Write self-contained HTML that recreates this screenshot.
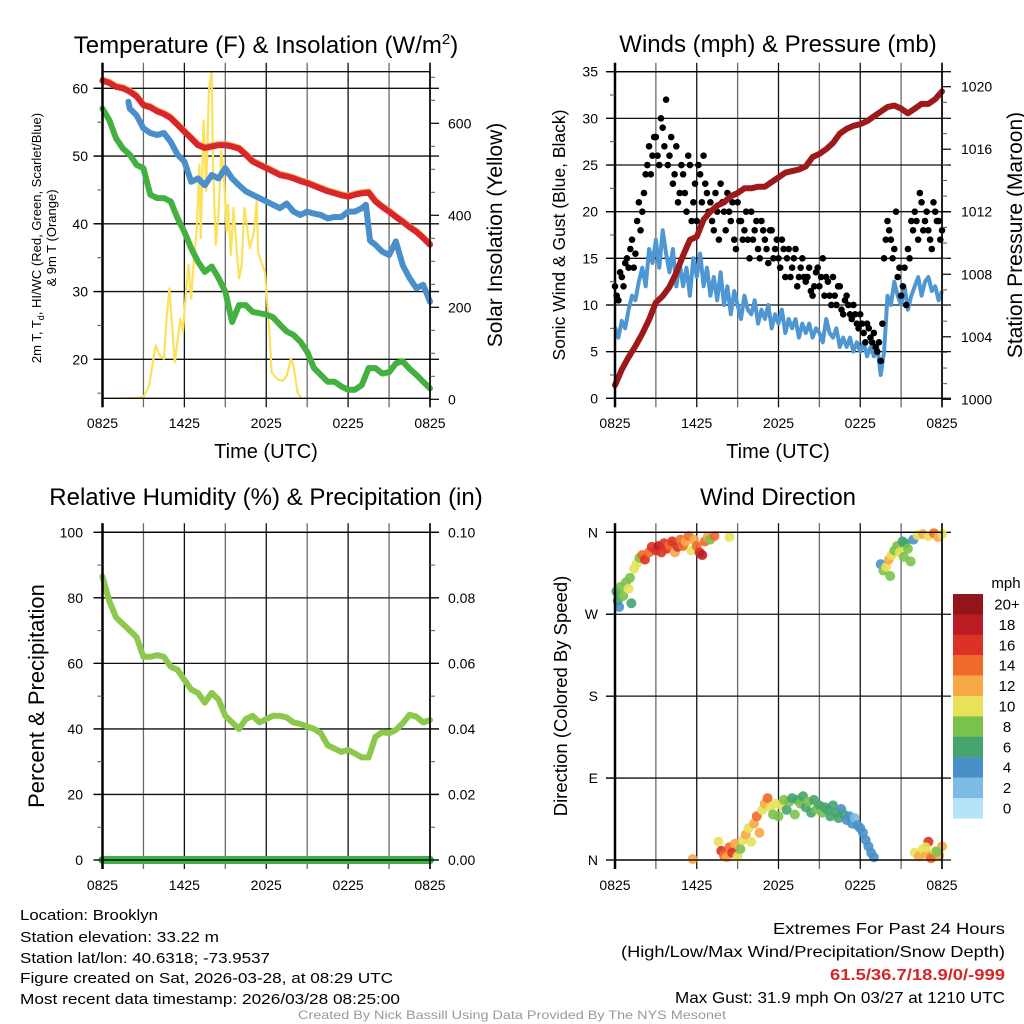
<!DOCTYPE html>
<html><head><meta charset="utf-8"><title>NYS Mesonet Brooklyn</title>
<style>
html,body{margin:0;padding:0;background:#fff;}
svg{display:block;font-family:"Liberation Sans",Arial,sans-serif;}
</style></head>
<body>
<svg id="fig" xmlns="http://www.w3.org/2000/svg" width="1024" height="1024" viewBox="0 0 1024 1024">
<rect x="0" y="0" width="1024" height="1024" fill="#fff"/>
<g id="layer-grid"></g>
<g id="layer-data"></g>
<g id="layer-axes"></g>

<text x="266" y="53" font-size="24" text-anchor="middle">Temperature (F) &amp; Insolation (W/m<tspan dy="-9" font-size="15">2</tspan><tspan dy="9">)</tspan></text>
<text x="778" y="52" font-size="24" text-anchor="middle">Winds (mph) &amp; Pressure (mb)</text>
<text x="266" y="505" font-size="24" text-anchor="middle">Relative Humidity (%) &amp; Precipitation (in)</text>
<text x="778" y="505" font-size="24" text-anchor="middle">Wind Direction</text>

<text transform="translate(41,238) rotate(-90)" font-size="13" text-anchor="middle">2m T, T<tspan dy="3" font-size="9">d</tspan><tspan dy="-3">, HI/WC (Red, Green, Scarlet/Blue)</tspan></text>
<text transform="translate(56,238) rotate(-90)" font-size="13" text-anchor="middle">&amp; 9m T (Orange)</text>
<text transform="translate(502,235) rotate(-90)" font-size="21" text-anchor="middle">Solar Insolation (Yellow)</text>
<text x="266" y="458" font-size="20" text-anchor="middle">Time (UTC)</text>

<text transform="translate(565,235) rotate(-90)" font-size="17.5" text-anchor="middle">Sonic Wind &amp; Gust (Blue, Black)</text>
<text transform="translate(1022,235) rotate(-90)" font-size="21" text-anchor="middle">Station Pressure (Maroon)</text>
<text x="778" y="458" font-size="20" text-anchor="middle">Time (UTC)</text>

<text transform="translate(44,696) rotate(-90)" font-size="22" text-anchor="middle">Percent &amp; Precipitation</text>
<text transform="translate(567,696) rotate(-90)" font-size="18.5" text-anchor="middle">Direction (Colored By Speed)</text>

<text x="1006" y="588" font-size="15" text-anchor="middle">mph</text>

<g font-size="15">
<text x="20" y="920" textLength="138" lengthAdjust="spacingAndGlyphs">Location: Brooklyn</text>
<text x="20" y="942" textLength="199" lengthAdjust="spacingAndGlyphs">Station elevation: 33.22 m</text>
<text x="20" y="963" textLength="250" lengthAdjust="spacingAndGlyphs">Station lat/lon: 40.6318; -73.9537</text>
<text x="20" y="983" textLength="373" lengthAdjust="spacingAndGlyphs">Figure created on Sat, 2026-03-28, at 08:29 UTC</text>
<text x="20" y="1004" textLength="380" lengthAdjust="spacingAndGlyphs">Most recent data timestamp: 2026/03/28 08:25:00</text>
</g>
<g font-size="16" text-anchor="end">
<text x="1005" y="934" textLength="232" lengthAdjust="spacingAndGlyphs">Extremes For Past 24 Hours</text>
<text x="1005" y="957" textLength="384" lengthAdjust="spacingAndGlyphs">(High/Low/Max Wind/Precipitation/Snow Depth)</text>
<text x="1005" y="980" font-weight="bold" fill="#d62728" textLength="175" lengthAdjust="spacingAndGlyphs">61.5/36.7/18.9/0/-999</text>
<text x="1005" y="1003" textLength="330" lengthAdjust="spacingAndGlyphs">Max Gust: 31.9 mph On 03/27 at 1210 UTC</text>
</g>
<text x="512" y="1019" font-size="12" fill="#999" text-anchor="middle" textLength="428" lengthAdjust="spacingAndGlyphs">Created By Nick Bassill Using Data Provided By The NYS Mesonet</text>
</svg>

<script>
// ---------- data ----------
const timeTicks = ["0825","1425","2025","0225","0825"];
const halfHours = [0,0.5,1,1.5,2,2.5,3,3.5,4,4.5,5,5.5,6,6.5,7,7.5,8,8.5,9,9.5,10,10.5,11,11.5,12,12.5,13,13.5,14,14.5,15,15.5,16,16.5,17,17.5,18,18.5,19,19.5,20,20.5,21,21.5,22,22.5,23,23.5,24];
const tempRed = [61.1,60.8,60.2,60,59.5,58.8,57.5,57.2,56.6,56.2,55.6,54.6,53.6,52.6,51.6,51.2,51.4,51.6,51.6,51.4,51.1,50.2,49.2,48.7,48.2,47.7,47.2,47,46.7,46.3,46,45.6,45.2,44.8,44.5,44.2,44,44.3,44.5,44.6,43.3,42.5,41.8,41,40.3,39.5,38.8,37.9,36.9];
const heatIndexHours = [1.9,2,2.5,3,3.5,4,4.5,5,5.5,6,6.5,7,7.5,8,8.5,9,9.5,10,10.5,11,11.5,12,12.5,13,13.5,14,14.5,15,15.5,16,16.5,17,17.5,18,18.5,19,19.3,19.6,20,20.5,21,21.5,22,22.5,23,23.5,24];
const heatIndexBlue = [58,57,56,54.1,53.4,53.1,53.4,52.1,50.2,49.2,46.2,46.7,45.7,47.2,46.7,48.2,46.7,45.7,44.8,44.3,43.8,43.3,42.8,42.3,43,41.8,41.3,41.8,41.5,41.3,40.8,41,41,41.8,41.8,42.3,42.8,37.5,36.9,35.9,35.4,37.4,33.9,32,30.5,31,28.5];
const dewGreen = [57,55.3,52.6,51.1,50.2,48.7,48.2,44.3,43.8,43.8,43.3,40.8,38.8,36.4,34.4,32.9,33.7,32,30,25.5,28,28,27,26.8,26.6,26.2,25.1,24.1,23.6,22.6,21.1,18.7,17.7,16.7,16.7,16,15.5,15.5,16.2,18.7,18.7,17.9,18.1,19.4,19.7,18.6,17.7,16.7,15.7];
const solarHours = [0,3,3.4,3.9,4.2,4.5,4.7,4.9,5.1,5.3,5.7,5.9,6.1,6.3,6.5,6.7,6.9,7.1,7.2,7.4,7.6,7.8,8.0,8.1,8.3,8.5,8.7,8.9,9.1,9.2,9.4,9.6,9.9,10.0,10.2,10.4,10.7,10.8,11.1,11.3,11.4,11.7,11.9,12.2,12.4,12.8,13.2,13.5,13.8,14.0,14.3,14.6,24];
const solarValues = [0,4,29,117,95,88,175,241,160,80,175,146,226,292,219,307,365,511,350,606,453,672,715,511,336,402,540,489,365,423,314,416,299,263,292,416,350,329,365,431,321,292,277,160,58,44,40,51,88,73,15,0,0];
const quarterHours = Array.from({length:97},(_,i)=>i/4);
const offsetQuarterHours = Array.from({length:96},(_,i)=>i/4+0.125);
const windSpeed = [7.6,6.5,8.3,7.5, 9.5,11,10.5,12.5, 14,12,16,14.5, 17,14,18,15.5, 13.5,16,12,14.5, 12,14,11,15, 13,15.5,12,14, 11,13,10.5,13.5, 10,12,9,11.5, 10,8.5,11,9.5, 9,10.5,8,9.5, 8.5,10,7.5,9, 8,9.5,7,8.5, 7.5,8.5,6.5,8, 7,8,6.5,7.5, 7,6,8.5,7, 6.5,7.5,5.5,6.5, 5.5,6.5,5,6, 5,6,4.5,5.5, 4.5,5.5,2.5,5, 11,10,12.5,11, 10,12,9.5,11, 12,13,11,12.5, 13,11.5,12,10.5, 11.5];
const windGust = [12,10.5,13,14.5, 14,17,15.5,21, 20,24,27,26, 28,25,29,32, 26,23,27,22, 24,20,25,21, 19,24,26,22, 21,18,20,23, 20,22,19,17, 21,19,18,17, 20,18,16,19, 17,14.5,18,16, 15,17,13,16, 14,16,13,15, 12.5,14,11,13.5, 12,15,13,11, 13,10,12,9, 11,9,10,8, 9,7,8,6.5, 7,5,4,15, 19,17,16,13, 11,14,16,19, 20,17,21,19, 18,16,20,19, 18];
const windGustOffset = [11,13.5,12,15, 16,14,19,18, 22,25,24,28, 26,30,27,25, 28,24,21,25, 22,26,19,23, 25,21,23,20, 19,22,17,21, 18,20,21,16, 19,17,20,15, 17,19,15,18, 16,18,15,17, 14,16,15,13, 15,12,14,13, 13,11.5,12,14, 13,11,12.5,10, 11,12,9.5,10.5, 10,8.5,9,7.5, 8,6,7.5,6, 5.5,6,8,17, 18,15,20,14, 12,10,15,18, 19,22,18,20, 17,21,19,17];
const pressure = [1000.9,1001.9,1002.7,1003.4,1004.2,1005.1,1006.2,1006.6,1007.2,1008.1,1009.2,1010.2,1010.4,1011.5,1012,1012.4,1012.6,1013,1013.2,1013.5,1013.5,1013.6,1013.6,1013.9,1014.2,1014.5,1014.6,1014.7,1014.9,1015.5,1015.7,1016,1016.4,1017,1017.3,1017.5,1017.6,1017.8,1018.1,1018.4,1018.7,1018.8,1018.6,1018.3,1018.6,1018.9,1018.9,1019.2,1019.7];
const relHumidity = [86.5,79,74,72,70,68,62,62,62.5,62,59,58,55,52,51,48,51,49,44,42,40,43,44,42,43,44,44,43.5,42,41.5,40.7,40,38.7,35,34,33,33.6,32.5,31.3,31.3,37.6,39,38.7,39.7,41.7,44.3,43.7,42,42.7];
const precip = [0,0];
const precipHours = [0,24];
const dirHours = [0.1,0.2,0.3,0.4,0.6,0.8,1.0,1.1,1.2,1.4,1.6,1.8,2.0,2.2,2.5,2.7,3.0,3.2,3.4,3.6,3.8,4.0,4.2,4.4,4.6,4.8,5.0,5.2,5.4,5.6,5.8,6.0,6.2,6.4,6.6,6.8,7.0,7.3,8.4,
 19.5,19.7,19.9,20.1,20.2,20.3,20.5,20.7,20.9,21.1,21.2,21.3,21.5,21.7,21.9,22.2,22.6,23.0,23.4,23.7,24.0,
 5.7,7.6,7.8,8.0,8.2,8.4,8.6,8.8,9.0,9.2,9.4,9.6,9.8,10.0,10.2,10.4,10.6,10.8,11.0,11.2,11.4,11.6,11.8,12.0,12.2,12.4,12.6,12.8,13.0,13.2,13.4,13.6,13.8,14.0,14.2,14.4,14.6,14.8,15.0,15.2,15.4,15.6,15.8,16.0,16.2,16.4,16.6,16.8,17.0,17.2,17.4,17.6,17.8,18.0,18.2,18.4,18.6,18.8,19.0,
 22.0,22.3,22.6,22.9,23.2,23.5,23.8,24.0,23.0,22.8,23.6];
const dirDegrees = [295,285,278,300,290,305,298,310,282,320,326,332,335,330,338,344,340,345,338,348,342,346,350,338,344,352,345,350,356,340,352,345,338,335,350,355,352,356,355,
 325,318,322,330,312,335,340,345,338,350,333,348,342,328,352,357,358,356,359,355,358,
 1,20,10,5,3,14,8,18,4,12,22,28,35,20,40,48,30,55,62,68,58,50,62,48,60,66,55,64,68,50,66,62,70,58,64,52,66,56,60,52,58,55,48,60,52,46,56,50,44,48,40,46,38,35,30,22,15,8,3,
 8,4,12,6,2,10,5,15,20,14,9];
const dirSpeed = [6,6,4,8,8,8,10,8,6,10,10,8,14,16,14,16,16,18,16,16,16,14,16,12,16,14,14,12,14,10,12,14,16,18,14,12,8,14,10,
 4,8,10,12,8,10,8,8,10,6,8,6,8,8,4,10,12,10,14,12,10,
 12,10,16,14,12,14,16,12,10,8,10,12,10,10,12,14,12,10,12,14,10,8,10,8,10,8,6,8,6,8,6,8,6,6,8,6,6,8,6,8,6,6,6,6,6,6,4,6,4,4,4,2,4,4,4,4,4,4,4,
 10,12,10,12,14,10,12,12,16,10,8];
const legendLabels = ["20+","18","16","14","12","10","8","6","4","2","0"];
const legendColors = ["#921519","#bc1b23","#db3126","#f06a2c","#f7a946","#e7e25a","#7bc24b","#46a56f","#4a90c8","#7dbae6","#b7e3f8"];

// ---------- helpers ----------
const NS="http://www.w3.org/2000/svg";
const gGrid=document.getElementById('layer-grid');
const gData=document.getElementById('layer-data');
const gAxes=document.getElementById('layer-axes');
function mk(parent, tag, attrs, txt){
  const e=document.createElementNS(NS,tag);
  for(const k in attrs) e.setAttribute(k, attrs[k]);
  if(txt!==undefined) e.textContent=txt;
  parent.appendChild(e); return e;
}
function scale(d0,d1,r0,r1){return v=>r0+(v-d0)*(r1-r0)/(d1-d0);}
function pathFrom(xs,ys,sx,sy){
  let d=''; let pen=false;
  for(let i=0;i<xs.length;i++){
    if(ys[i]===null||ys[i]===undefined){pen=false;continue;}
    d+=(pen?'L':'M')+sx(xs[i]).toFixed(1)+','+sy(ys[i]).toFixed(1); pen=true;
  }
  return d;
}

const P = {
  t:{x0:102.5,x1:430,y0:71.7,y1:398.3},
  w:{x0:615,x1:942,y0:71.7,y1:398.3},
  r:{x0:102.5,x1:430,y0:532.3,y1:860},
  d:{x0:615,x1:942,y0:532.3,y1:860}
};

function frame(p,name,xLabelY){
  const sx=scale(0,24,p.x0,p.x1);
  for(let h=0;h<=24;h+=3){
    const gl=mk(gGrid,'line',{x1:sx(h),x2:sx(h),y1:p.y0-9,y2:p.y1+9,stroke:(h%6===3)?'#6a6a6a':'#111','stroke-width':1.3});
    
    
  }
  timeTicks.forEach((t,i)=>{
    const tl=mk(gAxes,'text',{x:sx(i*6),y:xLabelY,'font-size':14,'text-anchor':'middle'},t);
    
    
  });
  const bx=mk(gAxes,'rect',{x:p.x0,y:p.y0,width:p.x1-p.x0,height:p.y1-p.y0,fill:'none',stroke:'#000','stroke-width':1.3});
  
  
  const la=mk(gAxes,'line',{x1:p.x0,x2:p.x0,y1:p.y0-9,y2:p.y1+9,stroke:'#000','stroke-width':2.5});
  
  
  const ra=mk(gAxes,'line',{x1:p.x1,x2:p.x1,y1:p.y0-9,y2:p.y1+9,stroke:'#000','stroke-width':1.5});
  
  
  return sx;
}
function yAxis(p,name,side,vals,labels,sy,minors,grid,labelX){
  const x=side==='l'?p.x0:p.x1, dir=side==='l'?-1:1;
  vals.forEach((v,i)=>{
    const y=sy(v);
    if(grid){
      const gl=mk(gGrid,'line',{x1:p.x0-9,x2:p.x1+9,y1:y,y2:y,stroke:'#111','stroke-width':1.3});
      
      
    }
    const tk=mk(gAxes,'line',{x1:x,x2:x+dir*9,y1:y,y2:y,stroke:'#000','stroke-width':1.2});
    
    
    const tl=mk(gAxes,'text',{x:labelX,y:y+5,'font-size':14,'text-anchor':side==='l'?'end':'start'},labels[i]);
    
    
  });
  minors.forEach(v=>{
    const y=sy(v);
    const mt=mk(gAxes,'line',{x1:x,x2:x+dir*5,y1:y,y2:y,stroke:'#555','stroke-width':1});
    
    
  });
}
function range(a,b,s){const r=[];for(let v=a;v<=b+1e-9;v+=s)r.push(+v.toFixed(4));return r;}

// ---------- Panel 1: temperature ----------
(function(){
  const p=P.t; const sx=frame(p,'temperature',428);
  const sy=scale(60,20,88.3,359.3);
  const syR=scale(0,600,399.3,123.3);
  yAxis(p,'temperature','l',[20,30,40,50,60],['20','30','40','50','60'],sy,[15,25,35,45,55],true,88);
  yAxis(p,'temperature','r',[0,200,400,600],['0','200','400','600'],syR,[50,100,150,250,300,350,450,500,550,650,700],false,448);
  const clip=mk(gData,'clipPath',{id:'clipT'});
  
  
  mk(clip,'rect',{x:p.x0-4,y:p.y0,width:p.x1-p.x0+8,height:p.y1-p.y0});
  const g=mk(gData,'g',{'clip-path':'url(#clipT)'});
  
  
  const s1=mk(g,'path',{d:pathFrom(solarHours,solarValues,sx,syR),fill:'none',stroke:'#fce15a','stroke-width':2.2,'stroke-linejoin':'round'});
  
  
  const s2=mk(g,'path',{d:pathFrom(halfHours,dewGreen,sx,sy),fill:'none',stroke:'#43b040','stroke-width':6,'stroke-linejoin':'round','stroke-linecap':'round'});
  
  
  const s3=mk(g,'path',{d:pathFrom(heatIndexHours,heatIndexBlue,sx,sy),fill:'none',stroke:'#4a8fca','stroke-width':6,'stroke-linejoin':'round','stroke-linecap':'round'});
  
  
  const s4=mk(g,'path',{d:pathFrom(halfHours,tempRed,sx,v=>sy(v)-1),fill:'none',stroke:'#f7a049','stroke-width':6,'stroke-linejoin':'round','stroke-linecap':'round'});
  
  
  const s5=mk(g,'path',{d:pathFrom(halfHours,tempRed,sx,sy),fill:'none',stroke:'#d8262a','stroke-width':6,'stroke-linejoin':'round','stroke-linecap':'round'});
  
  
})();

// ---------- Panel 2: winds ----------
(function(){
  const p=P.w; const sx=frame(p,'winds',428);
  const sy=scale(0,35,398.3,71.7);
  const syR=scale(1000,1020,399.3,86.7);
  yAxis(p,'winds','l',[0,5,10,15,20,25,30,35],['0','5','10','15','20','25','30','35'],sy,[2.5,7.5,12.5,17.5,22.5,27.5,32.5],true,598);
  yAxis(p,'winds','r',[1000,1004,1008,1012,1016,1020],['1000','1004','1008','1012','1016','1020'],syR,range(1001,1019,1).filter(v=>v%4!==0),false,961);
  const s1=mk(gData,'path',{d:pathFrom(quarterHours,windSpeed,sx,sy),fill:'none',stroke:'#4f97d3','stroke-width':4,'stroke-linejoin':'round'});
  
  
  quarterHours.forEach((h,i)=>{
    const c=mk(gData,'circle',{cx:sx(h),cy:sy(windGust[i]),r:3.3,fill:'#000'});
    
    
  });
  offsetQuarterHours.forEach((h,i)=>{
    const c=mk(gData,'circle',{cx:sx(h),cy:sy(windGustOffset[i]),r:3.3,fill:'#000'});
    
    
  });
  const s2=mk(gData,'path',{d:pathFrom(halfHours,pressure,sx,syR),fill:'none',stroke:'#9e1a1a','stroke-width':6,'stroke-linejoin':'round','stroke-linecap':'round'});
  
  
})();

// ---------- Panel 3: humidity ----------
(function(){
  const p=P.r; const sx=frame(p,'humidity',890);
  const sy=scale(0,100,860,532.3);
  const syR=scale(0,0.1,860,532.3);
  yAxis(p,'humidity','l',[0,20,40,60,80,100],['0','20','40','60','80','100'],sy,[10,30,50,70,90],true,83);
  yAxis(p,'humidity','r',[0,0.02,0.04,0.06,0.08,0.1],['0.00','0.02','0.04','0.06','0.08','0.10'],syR,[0.01,0.03,0.05,0.07,0.09],false,448);
  const s1=mk(gData,'path',{d:pathFrom(halfHours,relHumidity,sx,sy),fill:'none',stroke:'#8cc84b','stroke-width':6,'stroke-linejoin':'round','stroke-linecap':'round'});
  
  
  const s2=mk(gData,'path',{d:pathFrom(precipHours,precip,sx,syR),fill:'none',stroke:'#3fae48','stroke-width':8,'stroke-linecap':'round'});
  
  
})();

// ---------- Panel 4: wind direction ----------
(function(){
  const p=P.d; const sx=frame(p,'direction',890);
  const sy=scale(0,360,860,532.3);
  yAxis(p,'direction','l',[0,90,180,270,360],['N','E','S','W','N'],sy,[],true,598);
  function colorFor(s){let idx=Math.min(10,Math.floor(s/2));return legendColors[10-idx];}
  dirHours.forEach((h,i)=>{
    const c=mk(gData,'circle',{cx:sx(h),cy:sy(dirDegrees[i]),r:5,fill:colorFor(dirSpeed[i]),'fill-opacity':0.9});
    
    
  });
  legendLabels.forEach((lab,i)=>{
    const r=mk(gAxes,'rect',{x:953,y:594+i*20.4,width:30,height:20.6,fill:legendColors[i]});
    
    
    const t=mk(gAxes,'text',{x:1007,y:594+i*20.4+15.5,'font-size':15,'text-anchor':'middle'},lab);
    
    
  });
})();
</script>
</body></html>
